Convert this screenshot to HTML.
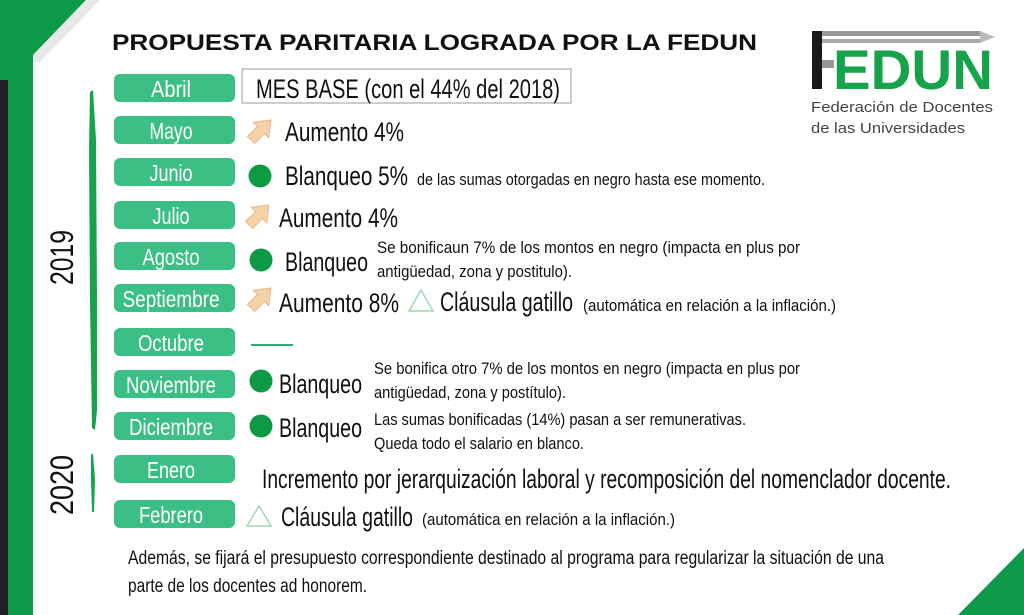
<!DOCTYPE html>
<html><head><meta charset="utf-8"><style>
html,body{margin:0;padding:0;background:#fff;width:1024px;height:615px;overflow:hidden}
svg{display:block}
.n{font-family:"Liberation Sans Narrow","Liberation Sans",sans-serif;fill:#111}
.p{font-family:"Liberation Sans Narrow","Liberation Sans",sans-serif;fill:#fff;font-size:23px}
</style></head><body>
<svg width="1024" height="615" viewBox="0 0 1024 615" xmlns="http://www.w3.org/2000/svg">
<polygon points="0,0 86,0 33,55 33,615 0,615" fill="#0d9a48"/>
<polygon points="86,0 100,0 40,62 33,62 33,55" fill="#e8e8e8"/>
<rect x="0" y="80" width="8" height="535" fill="#222"/>
<polygon points="1024,548 1024,615 958,615" fill="#0d9a48"/>
<text x="112" y="50" font-family="Liberation Sans,sans-serif" font-weight="bold" font-size="22" fill="#111" textLength="645" lengthAdjust="spacingAndGlyphs">PROPUESTA PARITARIA LOGRADA POR LA FEDUN</text>
<rect x="812" y="31" width="10" height="58" fill="#1a1a1a"/>
<rect x="822" y="31" width="158" height="5" fill="#999"/>
<rect x="822" y="39" width="158" height="4" fill="#aaa"/>
<polygon points="980,31 995,37 980,43" fill="#bbb"/>
<rect x="822" y="60" width="12" height="8" fill="#999"/>
<text x="833" y="89" font-family="Liberation Sans,sans-serif" font-weight="bold" font-size="56" fill="#16a34a" textLength="160" lengthAdjust="spacingAndGlyphs">EDUN</text>
<text x="811" y="112" font-family="Liberation Sans,sans-serif" font-size="15" fill="#444" textLength="182" lengthAdjust="spacingAndGlyphs">Federación de Docentes</text>
<text x="811" y="133" font-family="Liberation Sans,sans-serif" font-size="15" fill="#444" textLength="154" lengthAdjust="spacingAndGlyphs">de las Universidades</text>
<text class="n" font-size="32" transform="translate(73,285) rotate(-90)" textLength="55" lengthAdjust="spacingAndGlyphs">2019</text>
<text class="n" font-size="32" transform="translate(73,515) rotate(-90)" textLength="60" lengthAdjust="spacingAndGlyphs">2020</text>
<path d="M90,92 L93,90 L96,140 L97,300 L97,410 L95,430 L92,428 L90,300 L89,150 Z" fill="#16a34a"/>
<path d="M91,455 L93,453 L95,480 L94,512 L92,512 L91,480 Z" fill="#16a34a"/>
<g fill="#3cbf85">
<rect x="114" y="74" width="121" height="28" rx="6"/>
<rect x="114" y="116" width="121" height="28" rx="6"/>
<rect x="114" y="158" width="121" height="28" rx="6"/>
<rect x="114" y="201" width="121" height="28" rx="6"/>
<rect x="114" y="242" width="121" height="28" rx="6"/>
<rect x="114" y="284" width="121" height="28" rx="6"/>
<rect x="114" y="328" width="121" height="28" rx="6"/>
<rect x="114" y="370" width="121" height="28" rx="6"/>
<rect x="114" y="412" width="121" height="28" rx="6"/>
<rect x="114" y="455" width="121" height="28" rx="6"/>
<rect x="114" y="500" width="121" height="28" rx="6"/>
</g>
<g class="p" text-anchor="middle">
<text x="171" y="97" textLength="40" lengthAdjust="spacingAndGlyphs">Abril</text>
<text x="171" y="139" textLength="43" lengthAdjust="spacingAndGlyphs">Mayo</text>
<text x="171" y="181" textLength="43" lengthAdjust="spacingAndGlyphs">Junio</text>
<text x="171" y="224" textLength="37" lengthAdjust="spacingAndGlyphs">Julio</text>
<text x="171" y="265" textLength="57" lengthAdjust="spacingAndGlyphs">Agosto</text>
<text x="171" y="307" textLength="97" lengthAdjust="spacingAndGlyphs">Septiembre</text>
<text x="171" y="351" textLength="66" lengthAdjust="spacingAndGlyphs">Octubre</text>
<text x="171" y="393" textLength="90" lengthAdjust="spacingAndGlyphs">Noviembre</text>
<text x="171" y="435" textLength="84" lengthAdjust="spacingAndGlyphs">Diciembre</text>
<text x="171" y="478" textLength="48" lengthAdjust="spacingAndGlyphs">Enero</text>
<text x="171" y="523" textLength="64" lengthAdjust="spacingAndGlyphs">Febrero</text>
</g>
<defs><polygon id="ar" points="-5,14 5,14 5,0 11,0 0,-14 -11,0 -5,0" fill="#f6d2a8" stroke="#e8b888" stroke-width="1"/></defs>
<use href="#ar" transform="translate(261,130) rotate(45)"/>
<use href="#ar" transform="translate(259,215) rotate(45)"/>
<use href="#ar" transform="translate(261,298) rotate(45)"/>
<g fill="#0e9a45">
<circle cx="260" cy="176" r="11.5"/>
<circle cx="261" cy="260" r="11.5"/>
<circle cx="261" cy="381" r="11.5"/>
<circle cx="261" cy="426" r="11.5"/>
</g>
<polygon points="421,290 433,311 409,311" fill="none" stroke="#9fd8b5" stroke-width="1.5"/>
<polygon points="259,506 271,526 247,526" fill="none" stroke="#9fd8b5" stroke-width="1.5"/>
<line x1="251" y1="345" x2="293" y2="345" stroke="#2eaa6a" stroke-width="2"/>
<rect x="242" y="69" width="329" height="34" fill="none" stroke="#999" stroke-width="1"/>
<g class="n">
<text x="256" y="98" font-size="27" textLength="304" lengthAdjust="spacingAndGlyphs">MES BASE (con el 44% del 2018)</text>
<text x="285" y="141" font-size="27" textLength="119" lengthAdjust="spacingAndGlyphs">Aumento 4%</text>
<text x="285" y="185" font-size="27" textLength="123" lengthAdjust="spacingAndGlyphs">Blanqueo 5%</text>
<text x="417" y="185" font-size="17" textLength="348" lengthAdjust="spacingAndGlyphs">de las sumas otorgadas en negro hasta ese momento.</text>
<text x="279" y="227" font-size="27" textLength="119" lengthAdjust="spacingAndGlyphs">Aumento 4%</text>
<text x="285" y="271" font-size="27" textLength="83" lengthAdjust="spacingAndGlyphs">Blanqueo</text>
<text x="377" y="253" font-size="17" textLength="423" lengthAdjust="spacingAndGlyphs">Se bonificaun 7% de los montos en negro (impacta en plus por</text>
<text x="377" y="277" font-size="17" textLength="195" lengthAdjust="spacingAndGlyphs">antigüedad, zona y postitulo).</text>
<text x="279" y="312" font-size="27" textLength="120" lengthAdjust="spacingAndGlyphs">Aumento 8%</text>
<text x="440" y="311" font-size="27" textLength="133" lengthAdjust="spacingAndGlyphs">Cláusula gatillo</text>
<text x="583" y="311" font-size="17" textLength="253" lengthAdjust="spacingAndGlyphs">(automática en relación a la inflación.)</text>
<text x="279" y="393" font-size="27" textLength="83" lengthAdjust="spacingAndGlyphs">Blanqueo</text>
<text x="374" y="374" font-size="17" textLength="426" lengthAdjust="spacingAndGlyphs">Se bonifica otro 7% de los montos en negro (impacta en plus por</text>
<text x="374" y="398" font-size="17" textLength="192" lengthAdjust="spacingAndGlyphs">antigüedad, zona y postítulo).</text>
<text x="279" y="437" font-size="27" textLength="83" lengthAdjust="spacingAndGlyphs">Blanqueo</text>
<text x="374" y="425" font-size="17" textLength="372" lengthAdjust="spacingAndGlyphs">Las sumas bonificadas (14%) pasan a ser remunerativas.</text>
<text x="374" y="449" font-size="17" textLength="210" lengthAdjust="spacingAndGlyphs">Queda todo el salario en blanco.</text>
<text x="262" y="488" font-size="27" textLength="689" lengthAdjust="spacingAndGlyphs">Incremento por jerarquización laboral y recomposición del nomenclador docente.</text>
<text x="281" y="526" font-size="27" textLength="132" lengthAdjust="spacingAndGlyphs">Cláusula gatillo</text>
<text x="422" y="525" font-size="17" textLength="253" lengthAdjust="spacingAndGlyphs">(automática en relación a la inflación.)</text>
<text x="128" y="564" font-size="19" textLength="756" lengthAdjust="spacingAndGlyphs">Además, se fijará el presupuesto correspondiente destinado al programa para regularizar la situación de una</text>
<text x="128" y="592" font-size="19" textLength="239" lengthAdjust="spacingAndGlyphs">parte de los docentes ad honorem.</text>
</g>
</svg>
</body></html>
